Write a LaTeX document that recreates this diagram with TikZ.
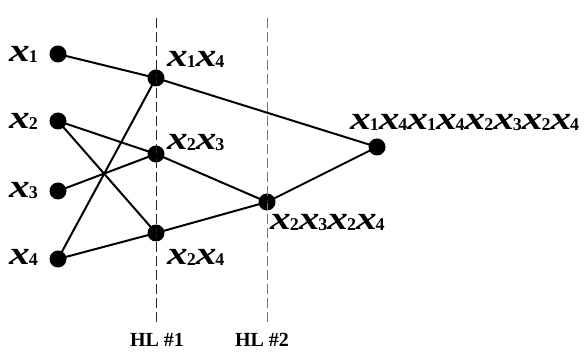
\documentclass[tikz,border=0pt]{standalone}
\usepackage{fontspec}
\usepackage{graphicx}
\setmainfont{Liberation Serif}
\newcommand\xv[1]{\scalebox{1.25}[1]{\fontsize{33}{35}\selectfont\bfseries\itshape x}\kern-1pt\raisebox{-1pt}{\fontsize{18}{20}\selectfont\bfseries #1}}
\begin{document}
\begin{tikzpicture}[x=1pt,y=-1pt,
  dot/.style={circle,fill=black,inner sep=0pt,minimum size=17pt},
  edge/.style={line width=2pt},
  lab/.style={anchor=base west,inner sep=0pt},
  hl/.style={line width=1pt,dash pattern=on 10pt off 4pt},
  hltext/.style={anchor=base,inner sep=0pt,font=\fontsize{20}{22}\selectfont\bfseries}]
\useasboundingbox (0,0) rectangle (588,352);
\node[dot] (a1) at (58,54) {};
\node[dot] (a2) at (58,121) {};
\node[dot] (a3) at (58,191) {};
\node[dot] (a4) at (58,259) {};
\node[dot] (b1) at (156,78) {};
\node[dot] (b2) at (156,154) {};
\node[dot] (b3) at (156,233) {};
\node[dot] (c1) at (267,202) {};
\node[dot] (d1) at (377,147) {};
\coordinate (h1t) at (156,18);
\coordinate (h1b) at (156,323);
\coordinate (h2t) at (267,18);
\coordinate (h2b) at (267,323);
\draw[hl,black!85] (h1t) -- (h1b);
\draw[hl,black!55] (h2t) -- (h2b);
\draw[edge] (a1.center) -- (b1.center);
\draw[edge] (a4.center) -- (b1.center);
\draw[edge] (a2.center) -- (b2.center);
\draw[edge] (a3.center) -- (b2.center);
\draw[edge] (a2.center) -- (b3.center);
\draw[edge] (a4.center) -- (b3.center);
\draw[edge] (b1.center) -- (d1.center);
\draw[edge] (b2.center) -- (c1.center);
\draw[edge] (b3.center) -- (c1.center);
\draw[edge] (c1.center) -- (d1.center);
\node[lab] (la1) at (9,62) {\xv{1}};
\node[lab] (la2) at (9,129) {\xv{2}};
\node[lab] (la3) at (9,198) {\xv{3}};
\node[lab] (la4) at (9,265) {\xv{4}};
\node[lab] (lb1) at (167,67) {\xv{1}\xv{4}};
\node[lab] (lb2) at (167,150) {\xv{2}\xv{3}};
\node[lab] (lb3) at (167,265) {\xv{2}\xv{4}};
\node[lab] (lc1) at (270,230) {\xv{2}\xv{3}\xv{2}\xv{4}};
\node[lab] (ld1) at (350,130) {\xv{1}\xv{4}\xv{1}\xv{4}\xv{2}\xv{3}\xv{2}\xv{4}};
\node[hltext] (t1) at (157,346) {HL \#1};
\node[hltext] (t2) at (262,346) {HL \#2};
\end{tikzpicture}
\end{document}
